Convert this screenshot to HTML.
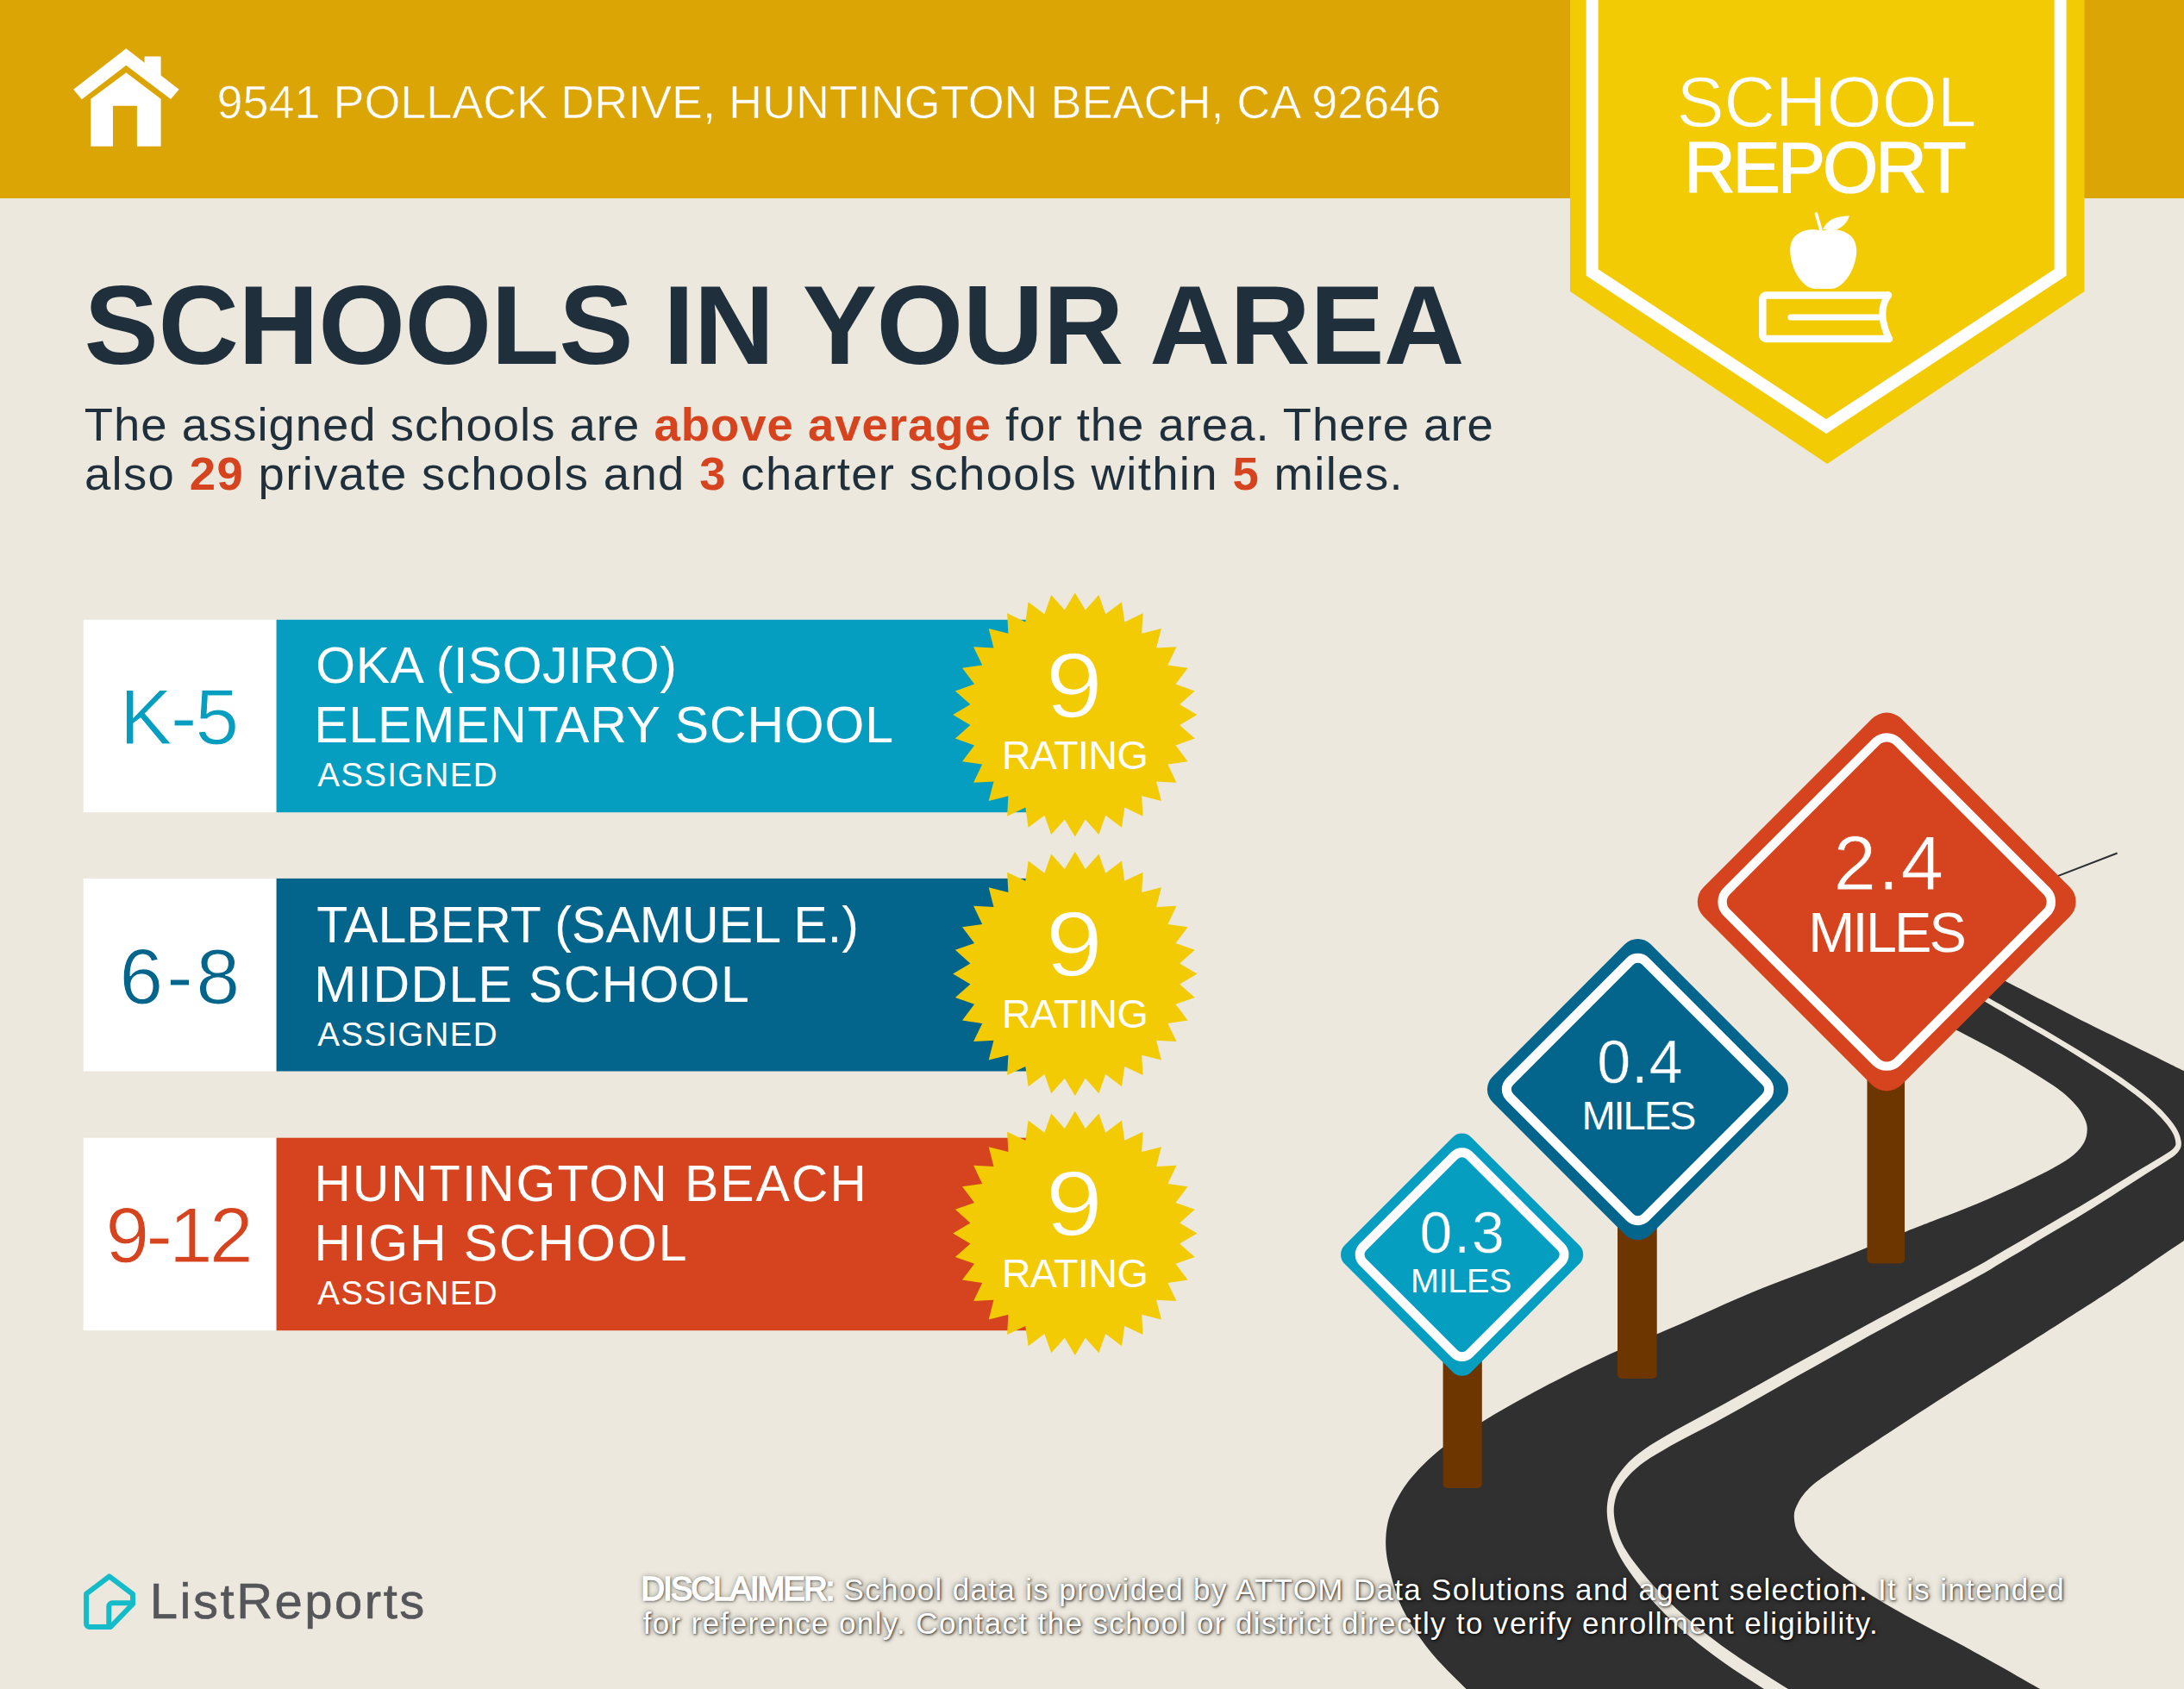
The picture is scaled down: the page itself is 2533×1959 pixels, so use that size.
<!DOCTYPE html>
<html lang="en">
<head>
<meta charset="utf-8">
<title>School Report</title>
<style>
html,body{margin:0;padding:0;}
body{width:2533px;height:1959px;position:relative;overflow:hidden;background:#ECE8DD;font-family:"Liberation Sans",sans-serif;}
#gfx{position:absolute;left:0;top:0;}
svg text{font-family:"Liberation Sans",sans-serif;}
.t{position:absolute;white-space:nowrap;line-height:1;margin:0;padding:0;font-weight:normal;transform-origin:0 0;}
.o{color:#D6431F;}
.d{color:#fff;text-shadow:1px 1px 3px rgba(0,0,0,.75),0 0 6px rgba(0,0,0,.5);}
</style>
</head>
<body>
<svg id="gfx" width="2533" height="1959" viewBox="0 0 2533 1959">
<defs>
<polygon id="star" points="0.0,-141.6 12.0,-121.4 27.6,-138.9 35.4,-116.7 54.2,-130.8 57.5,-107.6 78.7,-117.7 77.4,-94.3 100.1,-100.1 94.3,-77.4 117.7,-78.7 107.6,-57.5 130.8,-54.2 116.7,-35.4 138.9,-27.6 121.4,-12.0 141.6,-0.0 121.4,12.0 138.9,27.6 116.7,35.4 130.8,54.2 107.6,57.5 117.7,78.7 94.3,77.4 100.1,100.1 77.4,94.3 78.7,117.7 57.5,107.6 54.2,130.8 35.4,116.7 27.6,138.9 12.0,121.4 0.0,141.6 -12.0,121.4 -27.6,138.9 -35.4,116.7 -54.2,130.8 -57.5,107.6 -78.7,117.7 -77.4,94.3 -100.1,100.1 -94.3,77.4 -117.7,78.7 -107.6,57.5 -130.8,54.2 -116.7,35.4 -138.9,27.6 -121.4,12.0 -141.6,0.0 -121.4,-12.0 -138.9,-27.6 -116.7,-35.4 -130.8,-54.2 -107.6,-57.5 -117.7,-78.7 -94.3,-77.4 -100.1,-100.1 -77.4,-94.3 -78.7,-117.7 -57.5,-107.6 -54.2,-130.8 -35.4,-116.7 -27.6,-138.9 -12.0,-121.4" fill="#F2CB05"/>
</defs>

<!-- header band -->
<rect x="0" y="0" width="2533" height="230" fill="#DBA506"/>

<!-- house icon -->
<g fill="#fff">
<polygon points="146.3,56.3 207.7,103.7 198,115 146.3,75.8 94.8,115.2 85.2,103.7"/>
<polygon points="167.6,65.5 186.6,65.5 186.6,88 167.6,73"/>
<polygon points="146.3,84.3 186.6,114.8 186.6,169.7 158.9,169.7 158.9,122.7 131,122.7 131,169.7 105.3,169.7 105.3,114.8"/>
</g>

<!-- badge -->
<polygon points="1821,0 2417.5,0 2417.5,338 2119.2,538 1821,338" fill="#F2CB05"/>
<polyline points="1846.65,-10 1846.65,316 2118.1,494.5 2389.6,316 2389.6,-10" fill="none" stroke="#fff" stroke-width="14" stroke-linejoin="miter"/>

<!-- apple + book icon -->
<g id="apple">
<path d="M2113,268 C2100,263.5 2076,267 2076.2,291 C2076.5,311 2090,335 2106,335 L2123,335 C2139,335 2153,311 2153.2,291 C2153.4,267 2128,263.5 2113,268 Z" fill="#fff"/>
<path d="M2112.5,269 L2106.5,248" stroke="#fff" stroke-width="3.6" stroke-linecap="round" fill="none"/>
<path d="M2114,266 C2120,254 2130,250.5 2145,250.5 C2142,259 2136,264.5 2127,267.5 Z" fill="#fff"/>
<path d="M2190,342.5 H2048.3 a4,4 0 0 0 -4,4 V389 a4,4 0 0 0 4,4 H2191" fill="none" stroke="#fff" stroke-width="8.5" stroke-linecap="round" stroke-linejoin="round"/>
<path d="M2190,342.5 Q2176.1,361.3 2191,393" fill="none" stroke="#fff" stroke-width="8" stroke-linecap="round"/>
<path d="M2077,368 H2181" fill="none" stroke="#fff" stroke-width="7.2" stroke-linecap="round"/>
</g>
<!-- school rows -->
<g id="rows">
<rect x="96.7" y="718.8" width="224" height="223.4" fill="#fff"/>
<rect x="320.6" y="718.8" width="880" height="223.4" fill="#059DC0"/>
<use href="#star" x="1246.8" y="829"/>
<rect x="96.7" y="1018.9" width="224" height="223.6" fill="#fff"/>
<rect x="320.6" y="1018.9" width="880" height="223.6" fill="#03658C"/>
<use href="#star" x="1246.8" y="1129.4"/>
<rect x="96.7" y="1319.7" width="224" height="223.5" fill="#fff"/>
<rect x="320.6" y="1319.7" width="880" height="223.5" fill="#D6431F"/>
<use href="#star" x="1246.8" y="1430.4"/>
</g>

<!-- ROAD -->
<g id="road">
<path d="M1745.0,2000.0C1737.6,1993.2 1715.0,1973.3 1700.5,1959.0C1686.0,1944.7 1670.1,1929.6 1657.9,1914.3C1645.7,1899.0 1634.9,1882.4 1627.2,1867.0C1619.5,1851.6 1615.3,1834.6 1612.0,1822.0C1608.7,1809.4 1607.5,1801.5 1607.2,1791.5C1607.0,1781.5 1608.0,1771.5 1610.5,1762.0C1613.0,1752.5 1617.3,1743.7 1622.5,1734.8C1627.7,1725.9 1632.7,1718.2 1641.4,1708.8C1650.1,1699.3 1661.1,1688.3 1674.5,1678.1C1687.9,1667.9 1706.0,1657.1 1721.7,1647.4C1737.5,1637.8 1753.2,1628.9 1769.0,1620.2C1784.8,1611.5 1798.5,1604.2 1816.2,1595.4C1833.9,1586.6 1854.1,1576.6 1875.2,1567.1C1896.3,1557.6 1916.9,1549.7 1943.0,1538.3C1969.1,1526.9 2000.3,1512.0 2032.0,1498.9C2063.7,1485.9 2103.5,1471.6 2133.0,1460.0C2162.5,1448.4 2189.1,1437.1 2208.8,1429.2C2228.5,1421.3 2236.4,1418.5 2251.4,1412.6C2266.4,1406.7 2283.0,1400.4 2298.8,1393.7C2314.6,1387.0 2332.3,1378.9 2346.1,1372.4C2359.9,1365.9 2371.8,1360.1 2381.7,1354.6C2391.6,1349.1 2399.4,1344.1 2405.3,1339.2C2411.2,1334.3 2414.6,1329.7 2417.2,1325.0C2419.8,1320.3 2420.5,1315.1 2420.7,1310.8C2420.9,1306.5 2420.2,1303.2 2418.4,1298.9C2416.6,1294.6 2414.2,1289.8 2410.1,1284.7C2405.9,1279.6 2400.2,1273.6 2393.5,1268.1C2386.8,1262.6 2381.6,1259.1 2369.8,1251.6C2358.0,1244.1 2339.3,1232.6 2322.5,1223.1C2305.7,1213.6 2289.6,1205.5 2269.2,1194.7C2248.8,1183.9 2211.5,1164.1 2200.0,1158.0L2250,1098.5C2262.7,1105.1 2306.0,1127.6 2326.0,1137.9C2346.0,1148.2 2356.2,1153.6 2369.8,1160.6C2383.4,1167.6 2391.5,1172.0 2407.3,1180.0C2423.1,1188.0 2447.2,1199.7 2464.6,1208.3C2482.0,1216.9 2500.5,1226.1 2511.9,1231.7C2523.3,1237.3 2518.3,1234.9 2533.0,1242.1C2547.7,1249.3 2588.8,1269.5 2600.0,1275.0L2600,1396C2588.8,1403.2 2551.6,1426.8 2533.0,1439.0C2514.4,1451.2 2503.2,1459.2 2488.2,1469.4C2473.2,1479.6 2466.3,1484.9 2443.2,1500.0C2420.1,1515.1 2378.5,1541.5 2349.5,1560.0C2320.5,1578.5 2294.4,1594.7 2269.2,1610.8C2244.0,1626.9 2221.9,1641.2 2198.3,1656.8C2174.7,1672.3 2144.4,1692.3 2127.5,1704.1C2110.6,1715.9 2104.1,1720.6 2096.8,1727.7C2089.5,1734.8 2086.5,1741.1 2083.8,1746.6C2081.2,1752.1 2080.5,1755.3 2080.9,1760.8C2081.3,1766.3 2082.3,1772.9 2086.1,1779.6C2089.9,1786.3 2096.2,1793.4 2103.9,1800.9C2111.6,1808.4 2120.4,1815.8 2132.2,1824.5C2144.0,1833.2 2159.8,1843.7 2174.7,1852.9C2189.6,1862.2 2206.2,1871.3 2221.9,1880.0C2237.7,1888.7 2253.4,1896.3 2269.2,1904.8C2284.9,1913.3 2300.3,1921.8 2316.4,1930.8C2332.5,1939.8 2345.4,1947.5 2366.0,1959.0C2386.6,1970.5 2427.7,1993.2 2440.0,2000.0Z" fill="#303030"/>
<path d="M2248.6,1130.9L2256.5,1135.5L2268.0,1142.1L2281.0,1149.6L2293.8,1157.0L2304.4,1163.1L2312.3,1167.7L2318.8,1171.4L2324.6,1174.8L2330.8,1178.4L2338.3,1182.7L2347.1,1187.8L2356.8,1193.4L2367.0,1199.3L2377.5,1205.4L2387.9,1211.6L2398.5,1218.1L2409.7,1225.0L2420.9,1232.0L2431.5,1238.7L2441.0,1244.8L2449.4,1250.3L2456.9,1255.4L2463.7,1260.2L2470.1,1264.9L2476.3,1269.6L2482.3,1274.3L2488.0,1279.0L2493.3,1283.6L2498.2,1288.1L2502.6,1292.4L2506.6,1296.5L2510.1,1300.5L2513.3,1304.3L2516.0,1307.9L2518.2,1311.3L2520.0,1314.3L2521.3,1317.1L2522.2,1319.7L2522.8,1322.1L2523.2,1324.3L2523.4,1326.1L2523.4,1327.4L2523.1,1328.4L2522.6,1329.5L2521.7,1330.8L2520.7,1332.1L2519.7,1333.1L2518.2,1334.3L2515.7,1336.1L2511.8,1338.6L2506.6,1341.8L2500.3,1345.6L2492.9,1349.9L2484.8,1354.7L2476.1,1360.0L2466.5,1365.9L2455.9,1372.5L2444.8,1379.4L2433.5,1386.4L2422.6,1393.0L2411.9,1399.4L2401.3,1405.6L2390.6,1411.8L2380.0,1418.0L2369.3,1424.2L2358.2,1430.7L2346.8,1437.4L2335.5,1444.0L2325.0,1450.1L2315.8,1455.4L2309.4,1459.2L2305.6,1461.6L2302.0,1463.7L2296.1,1467.0L2285.7,1472.7L2269.1,1481.6L2247.9,1492.8L2224.5,1505.1L2201.2,1517.5L2180.3,1528.6L2162.4,1538.3L2146.1,1547.2L2130.4,1555.8L2114.2,1564.7L2096.8,1574.3L2077.3,1585.1L2056.3,1596.8L2035.0,1608.7L2014.7,1620.0L1996.7,1630.0L1980.9,1638.6L1966.6,1646.3L1953.6,1653.2L1941.8,1659.7L1931.1,1665.9L1921.8,1671.4L1914.0,1676.3L1907.1,1680.9L1901.0,1685.4L1895.1,1690.2L1889.6,1695.3L1884.8,1700.5L1880.5,1705.7L1876.8,1710.8L1873.6,1715.7L1870.9,1720.4L1868.8,1725.0L1867.1,1729.6L1865.9,1734.1L1864.9,1738.7L1864.2,1743.5L1863.8,1748.3L1863.7,1753.3L1864.0,1758.4L1864.6,1763.7L1865.6,1769.3L1866.9,1775.2L1868.6,1781.3L1870.6,1787.4L1872.9,1793.3L1875.5,1799.0L1878.3,1804.5L1881.4,1810.0L1885.0,1815.7L1889.1,1821.7L1893.7,1828.3L1898.9,1835.3L1904.5,1842.5L1910.5,1849.8L1916.7,1856.9L1923.1,1863.8L1929.7,1870.7L1936.6,1877.5L1944.0,1884.4L1951.9,1891.4L1960.3,1898.5L1969.1,1905.7L1978.5,1913.0L1988.4,1920.4L1998.8,1928.0L2009.9,1935.7L2021.7,1943.4L2033.8,1951.3L2046.3,1959.3L2059.0,1967.3L2073.0,1976.2L2088.5,1986.0L2103.7,1995.5L2116.8,2003.6L2126.0,2009.4L2134.0,1996.6L2124.7,1990.9L2111.7,1982.7L2096.5,1973.2L2081.0,1963.5L2067.0,1954.7L2054.3,1946.7L2041.8,1938.8L2029.7,1931.0L2018.1,1923.5L2007.2,1916.0L1996.9,1908.7L1987.3,1901.5L1978.1,1894.4L1969.4,1887.5L1961.1,1880.6L1953.3,1873.9L1946.1,1867.4L1939.2,1861.0L1932.6,1854.6L1926.3,1848.1L1920.0,1841.4L1913.9,1834.7L1908.2,1827.9L1902.8,1821.4L1897.9,1815.3L1893.7,1809.7L1889.9,1804.5L1886.7,1799.6L1883.7,1794.7L1881.1,1789.7L1878.7,1784.3L1876.7,1778.7L1874.9,1773.1L1873.6,1767.7L1872.6,1762.5L1872.0,1757.7L1871.7,1753.1L1871.8,1748.8L1872.3,1744.5L1873.1,1740.3L1874.1,1736.2L1875.3,1732.4L1876.9,1728.7L1879.0,1724.9L1881.6,1720.9L1884.8,1716.6L1888.4,1712.2L1892.6,1707.8L1897.3,1703.4L1902.5,1699.0L1908.0,1694.9L1913.9,1691.0L1920.5,1686.9L1928.3,1682.4L1937.5,1677.1L1948.1,1671.3L1959.9,1665.1L1973.0,1658.3L1987.4,1650.7L2003.3,1642.0L2021.4,1632.0L2041.7,1620.5L2062.8,1608.5L2083.7,1596.6L2103.2,1585.7L2120.5,1575.9L2136.5,1566.9L2152.2,1558.2L2168.4,1549.1L2186.1,1539.4L2206.9,1528.0L2230.0,1515.4L2253.3,1502.8L2274.4,1491.4L2290.9,1482.3L2301.4,1476.4L2307.4,1473.0L2311.1,1470.7L2314.9,1468.3L2321.2,1464.6L2330.3,1459.1L2340.8,1452.9L2352.0,1446.2L2363.3,1439.3L2374.3,1432.8L2384.9,1426.4L2395.5,1420.2L2406.2,1413.9L2416.8,1407.5L2427.4,1401.0L2438.4,1394.1L2449.6,1387.0L2460.6,1379.8L2471.1,1373.1L2480.5,1367.0L2489.0,1361.6L2497.0,1356.6L2504.2,1352.1L2510.5,1348.1L2515.8,1344.6L2519.7,1341.9L2522.4,1339.9L2524.4,1338.1L2525.9,1336.4L2527.3,1334.6L2528.5,1332.6L2529.4,1330.4L2529.8,1328.1L2529.9,1325.8L2529.6,1323.3L2529.0,1320.7L2528.3,1317.8L2527.1,1314.7L2525.6,1311.4L2523.6,1307.9L2521.1,1304.3L2518.3,1300.4L2515.0,1296.4L2511.3,1292.2L2507.2,1287.8L2502.6,1283.4L2497.6,1278.8L2492.2,1274.1L2486.4,1269.3L2480.3,1264.4L2474.0,1259.7L2467.5,1254.9L2460.6,1250.1L2453.0,1244.9L2444.6,1239.4L2435.0,1233.2L2424.3,1226.5L2413.1,1219.5L2401.9,1212.7L2391.1,1206.2L2380.7,1200.0L2370.2,1193.8L2359.9,1188.0L2350.2,1182.4L2341.3,1177.3L2333.9,1173.0L2327.7,1169.5L2321.8,1166.1L2315.3,1162.4L2307.4,1157.9L2296.7,1151.8L2283.9,1144.5L2270.8,1137.1L2259.4,1130.6L2251.4,1126.1Z" fill="#ECE8DD"/>
</g>

<!-- SIGNS -->
<g id="signs">
<line x1="2380" y1="1018.6" x2="2455.6" y2="989.5" stroke="#2B2F33" stroke-width="2"/>
<path d="M1673.6,1560V1721a5,5 0 0 0 5,5h35.2a5,5 0 0 0 5,-5V1560Z" fill="#6D3500"/>
<path d="M1876,1400V1594a5,5 0 0 0 5,5h35.7a5,5 0 0 0 5,-5V1400Z" fill="#6D3500"/>
<path d="M2165.5,1230V1460.4a5,5 0 0 0 5,5h33.5a5,5 0 0 0 5,-5V1230Z" fill="#6D3500"/>
<g transform="translate(1695.6,1455.2) rotate(45)"><rect x="-103.8" y="-103.8" width="207.6" height="207.6" rx="15" fill="#059DC0"/><rect x="-87.4" y="-87.4" width="174.8" height="174.8" rx="12.4" fill="none" stroke="#fff" stroke-width="10.8"/></g>
<g transform="translate(1899.5,1263.5) rotate(45)"><rect x="-129.6" y="-129.6" width="259.2" height="259.2" rx="21" fill="#03658C"/><rect x="-111.4" y="-111.4" width="222.8" height="222.8" rx="13" fill="none" stroke="#fff" stroke-width="11"/></g>
<g transform="translate(2188.2,1046) rotate(45)"><rect x="-162.2" y="-162.2" width="324.4" height="324.4" rx="24" fill="#D6431F"/><rect x="-140" y="-140" width="280" height="280" rx="17.7" fill="none" stroke="#fff" stroke-width="10.4"/></g>
</g>

<!-- LOGO -->
<g id="logo" fill="none" stroke="#14BCC9" stroke-width="6" stroke-linejoin="round" stroke-linecap="round">
<path d="M126.8,1828.3 L154,1849 V1860.3 L128.3,1887 H103.6 a3.5,3.5 0 0 1 -3.5,-3.5 V1848.7 Z"/>
<path d="M154,1859.3 H130.3 a4,4 0 0 0 -4,4 V1885.5"/>
</g>
</svg>
<!--TEXT-->
<div class="t" style="left:251.5px;top:90.6px;font-size:54px;color:#fff;letter-spacing:-0.04px;-webkit-text-stroke:0.6px #DBA506;">9541 POLLACK DRIVE, HUNTINGTON BEACH, CA 92646</div>
<h1 class="t" style="left:97.6px;top:312.7px;font-size:129.5px;color:#1F2F3C;font-weight:700;letter-spacing:-0.57px;">SCHOOLS IN YOUR AREA</h1>
<div class="t" style="left:139.0px;top:786.2px;font-size:91px;color:#059DC0;letter-spacing:-1.75px;-webkit-text-stroke:1px #fff;">K-5</div>
<div class="t" style="left:138.5px;top:1086.6px;font-size:91px;color:#03658C;letter-spacing:4.09px;-webkit-text-stroke:1px #fff;">6-8</div>
<div class="t" style="left:122.5px;top:1387.2px;font-size:91px;color:#D6431F;letter-spacing:-3.67px;-webkit-text-stroke:1px #fff;">9-12</div>
<div class="t" style="left:366.3px;top:743.2px;font-size:59px;color:#fff;letter-spacing:0.46px;">OKA (ISOJIRO)</div>
<div class="t" style="left:364.3px;top:812.4px;font-size:59px;color:#fff;letter-spacing:0.79px;">ELEMENTARY SCHOOL</div>
<div class="t" style="left:368.3px;top:880.1px;font-size:38.6px;color:#fff;letter-spacing:1.27px;">ASSIGNED</div>
<div class="t" style="left:367.3px;top:1043.6px;font-size:59px;color:#fff;letter-spacing:0.07px;">TALBERT (SAMUEL E.)</div>
<div class="t" style="left:364.3px;top:1112.8px;font-size:59px;color:#fff;letter-spacing:1.34px;">MIDDLE SCHOOL</div>
<div class="t" style="left:368.3px;top:1180.5px;font-size:38.6px;color:#fff;letter-spacing:1.27px;">ASSIGNED</div>
<div class="t" style="left:364.3px;top:1344.2px;font-size:59px;color:#fff;letter-spacing:1.91px;">HUNTINGTON BEACH</div>
<div class="t" style="left:364.3px;top:1413.4px;font-size:59px;color:#fff;letter-spacing:1.92px;">HIGH SCHOOL</div>
<div class="t" style="left:368.3px;top:1481.1px;font-size:38.6px;color:#fff;letter-spacing:1.27px;">ASSIGNED</div>
<div class="t" style="left:1215.8px;top:741.9px;font-size:107px;color:#fff;-webkit-text-stroke:1.5px #F2CB05;transform:scaleX(1.12);transform-origin:50% 50%;">9</div>
<div class="t" style="left:1161.7px;top:853.0px;font-size:46.8px;color:#fff;letter-spacing:-0.62px;">RATING</div>
<div class="t" style="left:1215.8px;top:1042.3px;font-size:107px;color:#fff;-webkit-text-stroke:1.5px #F2CB05;transform:scaleX(1.12);transform-origin:50% 50%;">9</div>
<div class="t" style="left:1161.7px;top:1153.4px;font-size:46.8px;color:#fff;letter-spacing:-0.62px;">RATING</div>
<div class="t" style="left:1215.8px;top:1342.9px;font-size:107px;color:#fff;-webkit-text-stroke:1.5px #F2CB05;transform:scaleX(1.12);transform-origin:50% 50%;">9</div>
<div class="t" style="left:1161.7px;top:1454.0px;font-size:46.8px;color:#fff;letter-spacing:-0.62px;">RATING</div>
<div class="t" style="left:1944.4px;top:76.6px;font-size:83px;color:#fff;letter-spacing:-0.45px;-webkit-text-stroke:1.3px #F2CB05;">SCHOOL</div>
<div class="t" style="left:1953.0px;top:152.5px;font-size:83px;color:#fff;letter-spacing:-3.33px;-webkit-text-stroke:1.2px #fff;">REPORT</div>
<div class="t" style="left:1646.5px;top:1394.5px;font-size:68px;color:#fff;letter-spacing:1.89px;-webkit-text-stroke:0.5px #059DC0;">0.3</div>
<div class="t" style="left:1636.0px;top:1466.3px;font-size:39.6px;color:#fff;letter-spacing:-0.34px;">MILES</div>
<div class="t" style="left:1852.3px;top:1197.3px;font-size:70px;color:#fff;letter-spacing:0.86px;-webkit-text-stroke:0.5px #03658C;">0.4</div>
<div class="t" style="left:1834.4px;top:1270.4px;font-size:47px;color:#fff;letter-spacing:-2.02px;">MILES</div>
<div class="t" style="left:2126.4px;top:956.6px;font-size:89px;color:#fff;letter-spacing:1.99px;-webkit-text-stroke:0.8px #D6431F;">2.4</div>
<div class="t" style="left:2097.3px;top:1049.0px;font-size:65px;color:#fff;letter-spacing:-2.85px;">MILES</div>
<div class="t" style="left:173.8px;top:1828.1px;font-size:58px;color:#55565A;letter-spacing:2.52px;-webkit-text-stroke:0.6px #55565A;">ListReports</div>
<p class="t" style="left:97.7px;top:466.1px;font-size:54.5px;color:#1F2F3C;letter-spacing:0.98px;">The assigned schools are <b class="o">above average</b> for the area. There are</p>
<p class="t" style="left:97.9px;top:522.5px;font-size:54.5px;color:#1F2F3C;letter-spacing:1.345px;">also <b class="o">29</b> private schools and <b class="o">3</b> charter schools within <b class="o">5</b> miles.</p>
<div class="t d" style="left:743.5px;top:1823.7px;font-size:38px;letter-spacing:-1.8px;-webkit-text-stroke:1.7px #fff;"><b style="font-weight:normal">DISCLAIMER:</b></div>
<div class="t d" style="left:978.6px;top:1826.3px;font-size:35px;letter-spacing:1.33px;">School data is provided by ATTOM Data Solutions and agent selection. It is intended</div>
<div class="t d" style="left:745.7px;top:1865.1px;font-size:35px;letter-spacing:1.37px;">for reference only. Contact the school or district directly to verify enrollment eligibility.</div>
<!--/TEXT-->
</body>
</html>
